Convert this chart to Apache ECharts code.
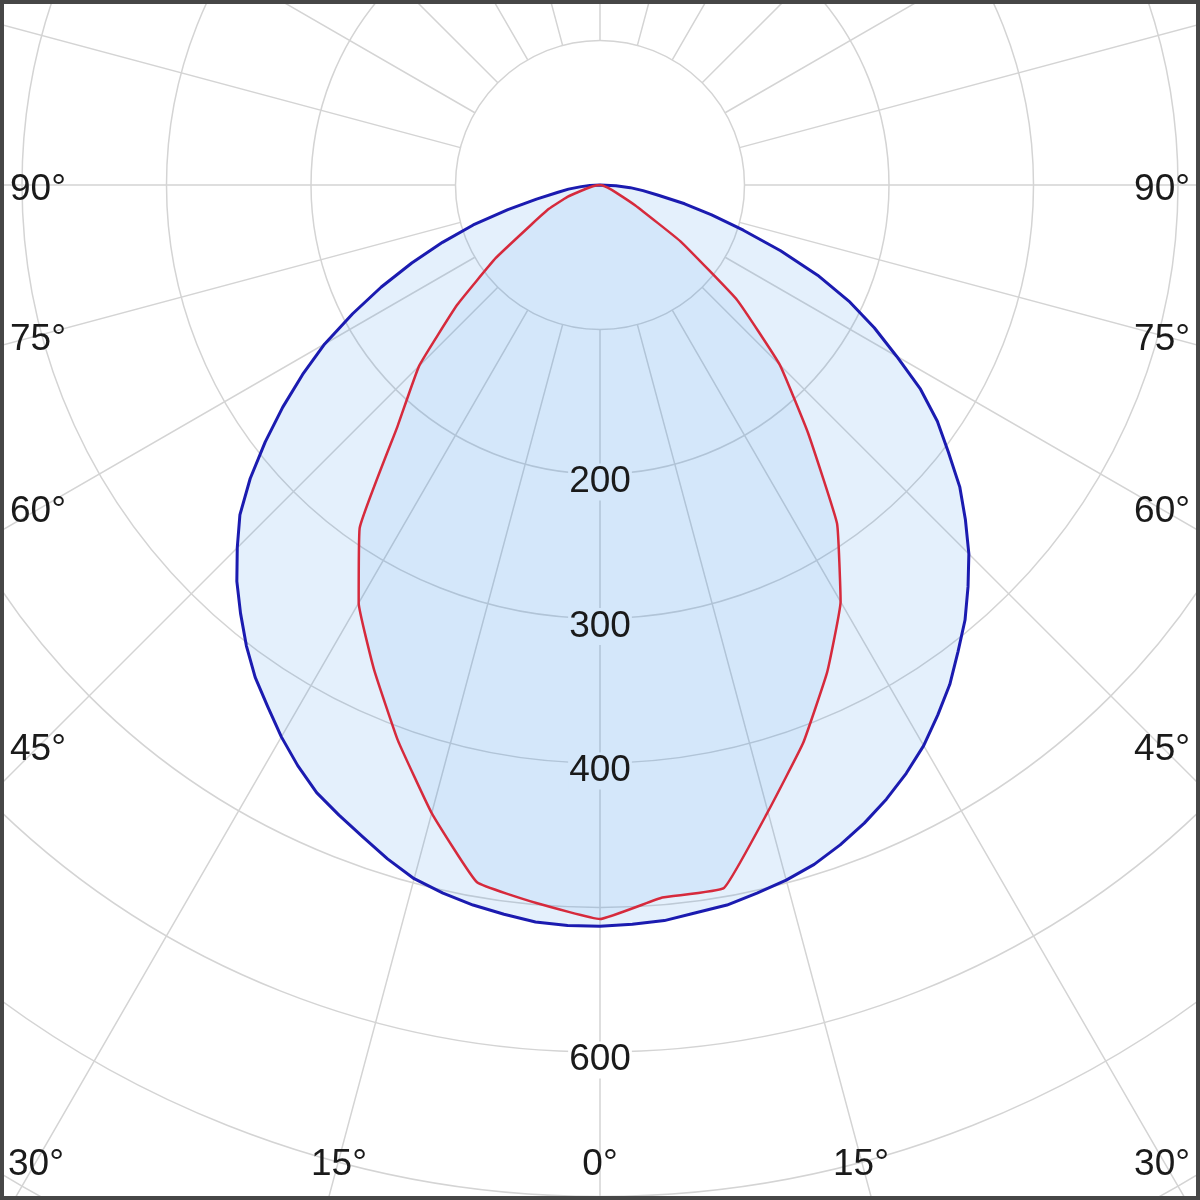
<!DOCTYPE html>
<html>
<head>
<meta charset="utf-8">
<script src="https://cdn.jsdelivr.net/npm/echarts@6/dist/echarts.min.js"></script>
<style>
html,body{margin:0;padding:0;background:#fff;}
#chart{width:1200px;height:1200px;}
</style>
</head>
<body>
<div id="chart"></div>
<script>
// ---- data ----
const blueAngles = [-90,-87.5,-85,-82.5,-80,-77.5,-75,-72.5,-70,-67.5,-65,-62.5,-60,-57.5,-55,-52.5,-50,-47.5,-45,-42.5,-40,-37.5,-35,-32.5,-30,-27.5,-25,-22.5,-20,-17.5,-15,-12.5,-10,-7.5,-5,-2.5,
  0,2.5,5,7.5,10,12.5,15,17.5,20,22.5,25,27.5,30,32.5,35,37.5,40,42.5,45,47.5,50,52.5,55,57.5,60,62.5,65,67.5,70,72.5,75,77.5,80,82.5,85,87.5,90];
const blueValues = [0,7,13,22,30,45,66,92,116,141,167,193,220,244,268,292,316,338,355,372,387,402,416,428,441,453,464,472,480,489,497,502,506,509,512,513,
  513,512,511,508,506,502,498,493,486,478,469,459,448,435,422,407,393,377,361,343,325,304,285,263,237,214,190,163,133,104,80,60,41,30,21,11,0];
const redAngles = [-90,-85,-80,-75,-70,-65,-60,-55,-50,-45,-40,-35,-30,-25,-20,-15,-10,-5,0,5,10,15,20,25,30,35,40,45,50,55,60,65,70,75,80,85,90];
const redValues = [0,2,5,10,24,39,55,88,129,177,218,290,334,370,409,450,490,499,508,495,494,449,411,372,333,286,224,176,124,68,28,12,6,3,2,1,0];
const ringLabelValues = [200,300,400,600];
const sideAngleLabels = ['90°','75°','60°','45°'];
const bottomAngleLabels = ['30°','15°','0°','15°','30°'];

// ---- layout ----
const CX = 600, CY = 185;
const R_MAX = 900, R_PX = 1300.5, R_IN_VAL = 100, R_IN_PX = 144.5;
const FONT = 'Liberation Sans, Arial, sans-serif';
const TEXT_COLOR = '#1a1a1a';
const sideY = [190, 340, 512, 750];
const bottomX = [8, 339, 600, 861, 1190];
const bottomAlign = ['left','center','center','center','right'];
const BOTTOM_Y = 1165;
const INNER_BG = '#d4e7fa';

const chart = echarts.init(document.getElementById('chart'), null, {renderer:'canvas'});

const graphics = [];
sideAngleLabels.forEach((t, i) => {
  graphics.push({type:'text', x:10, y:sideY[i], z:100, style:{text:t, fontSize:37, fontFamily:FONT, fill:TEXT_COLOR, align:'left', verticalAlign:'middle'}});
  graphics.push({type:'text', x:1190, y:sideY[i], z:100, style:{text:t, fontSize:37, fontFamily:FONT, fill:TEXT_COLOR, align:'right', verticalAlign:'middle'}});
});
bottomAngleLabels.forEach((t, i) => {
  graphics.push({type:'text', x:bottomX[i], y:BOTTOM_Y, z:100, style:{text:t, fontSize:37, fontFamily:FONT, fill:TEXT_COLOR, align:bottomAlign[i], verticalAlign:'middle'}});
});
graphics.push({type:'rect', z:200, shape:{x:2, y:2, width:1196, height:1196}, style:{fill:null, stroke:'#474747', lineWidth:4}});

const option = {
  animation: false,
  backgroundColor: '#ffffff',
  polar: [
    {center:[CX, CY], radius:[R_IN_PX, R_PX]},
    {center:[CX, CY], radius:[0, R_PX]}
  ],
  angleAxis: [
    {polarIndex:0, type:'value', min:-180, max:180, interval:15, startAngle:90, clockwise:false,
     axisLine:{show:false}, axisTick:{show:false}, axisLabel:{show:false},
     splitLine:{show:true, lineStyle:{color:'#d4d4d4', width:1.5}}},
    {polarIndex:1, type:'value', min:-180, max:180, interval:15, startAngle:90, clockwise:false,
     axisLine:{show:false}, axisTick:{show:false}, axisLabel:{show:false}, splitLine:{show:false}}
  ],
  radiusAxis: [
    {polarIndex:0, type:'value', min:R_IN_VAL, max:R_MAX, interval:100,
     axisLine:{show:false}, axisTick:{show:false}, axisLabel:{show:false},
     splitLine:{show:true, lineStyle:{color:'#d4d4d4', width:1.5}}},
    {polarIndex:1, type:'value', min:0, max:R_MAX, interval:100,
     axisLine:{show:false}, axisTick:{show:false}, axisLabel:{show:false}, splitLine:{show:false}}
  ],
  graphic: graphics,
  series: [
    {
      type:'line', coordinateSystem:'polar', polarIndex:1, showSymbol:false, smooth:false, z:2,
      data: blueAngles.map((a, i) => [blueValues[i], a]),
      lineStyle:{color:'#1b1bb0', width:3, join:'round'},
      areaStyle:{color:'rgba(30,130,230,0.12)', opacity:1}
    },
    {
      type:'line', coordinateSystem:'polar', polarIndex:1, showSymbol:false, smooth:0.1, z:3,
      data: redAngles.map((a, i) => [redValues[i], a]),
      lineStyle:{color:'#d62a3c', width:2.5, join:'round'},
      areaStyle:{color:'rgba(30,130,230,0.08)', opacity:1}
    },
    {
      type:'scatter', coordinateSystem:'polar', polarIndex:1, z:10,
      symbol:'circle', symbolSize:1, itemStyle:{color:INNER_BG, opacity:1},
      emphasis:{disabled:true},
      data: ringLabelValues.map(v => ({value:[v, 0], label:{backgroundColor: v > 520 ? '#ffffff' : INNER_BG}})),
      label:{show:true, position:'inside', offset:[0,8], formatter:p => String(p.value[0]),
             fontSize:37, fontFamily:FONT, color:TEXT_COLOR, opacity:1, padding:[0,1],
             textBorderWidth:0}
    }
  ]
};
chart.setOption(option);
</script>
</body>
</html>
